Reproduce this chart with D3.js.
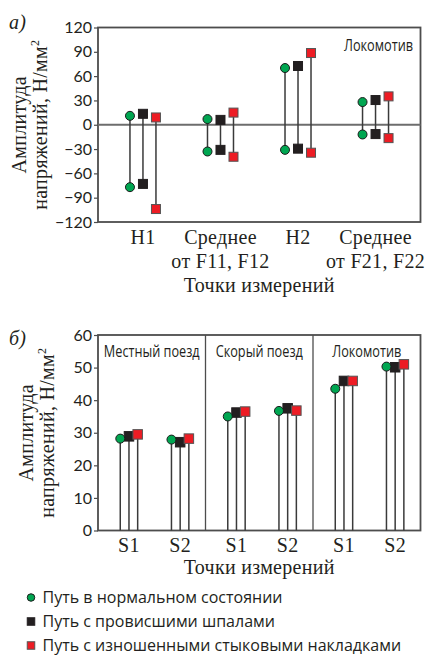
<!DOCTYPE html>
<html><head><meta charset="utf-8">
<script src="https://cdn.jsdelivr.net/npm/d3@7"></script>
<style>
body{margin:0;background:#fff;}
svg{display:block;}
.tick text{font-family:Lato,"Open Sans",sans-serif;font-size:16px;fill:#231f20;}
.serif{font-family:"Liberation Serif","DejaVu Serif",serif;fill:#231f20;letter-spacing:0.3px;}
.cond{font-family:"Open Sans","Noto Sans",sans-serif;fill:#231f20;}
.leg{font-family:"Open Sans","Noto Sans",sans-serif;fill:#231f20;}
</style>
</head><body>
<script>
// ---------- DATA ----------
// Chart a)
const catsA = ["H1", "Среднее|от F11, F12", "H2", "Среднее|от F21, F22"];
const seriesNames = ["Путь в нормальном состоянии", "Путь с провисшими шпалами", "Путь с изношенными стыковыми накладками"];
const maxNormal = [11, 7, 70, 28];
const minNormal = [-77, -33, -31, -12];
const maxSag = [13.5, 6, 72.5, 30.5];
const minSag = [-73, -31, -29.5, -11.5];
const maxWorn = [9, 15, 88.5, 35];
const minWorn = [-104, -39.5, -34.5, -16.5];
const ticksA = [-120, -90, -60, -30, 0, 30, 60, 90, 120];
const labelA = "Локомотив";
// Chart б)
const sectionsB = ["Местный поезд", "Скорый поезд", "Локомотив"];
const pointsB = ["S1", "S2"];
const normalB = [28.2, 27.9, 35.0, 36.7, 43.5, 50.3];
const sagB = [28.9, 27.1, 36.2, 37.5, 45.9, 50.1];
const wornB = [29.5, 28.2, 36.5, 36.8, 45.9, 51.0];
const ticksB = [0, 10, 20, 30, 40, 50, 60];
const xTitle = "Точки измерений";
const yTitle1 = "Амплитуда";
const yTitle2 = "напряжений, Н/мм";

const colors = ["#00a651", "#231f20", "#ed1c24"];
const stemColor = "#3a3a3a";
const axisColor = "#4d4d4d";
const serifSize = 20;

const svg = d3.select("body").append("svg").attr("width", 425).attr("height", 655);

function marker(g, type, x, y, s) {
  if (type === 0) {
    g.append("circle").attr("cx", x).attr("cy", y).attr("r", s / 2)
      .attr("fill", colors[0]).attr("stroke", "#1a1a1a").attr("stroke-width", 1);
  } else {
    g.append("rect").attr("x", x - s / 2).attr("y", y - s / 2).attr("width", s).attr("height", s)
      .attr("fill", colors[type]).attr("stroke", type === 2 ? "#555" : "#231f20").attr("stroke-width", 1);
  }
}

function condText(g, x, y, anchor, txt) {
  g.append("text").attr("class", "cond").attr("font-size", 15.5).attr("text-anchor", anchor)
    .attr("transform", `translate(${x},${y}) scale(0.82,1)`).text(txt);
}

function yTitle(x1, x2, cy) {
  svg.append("text").attr("class", "serif").attr("font-size", serifSize)
    .attr("transform", `translate(${x1},${cy}) rotate(-90)`).attr("text-anchor", "middle").text(yTitle1);
  const t2 = svg.append("text").attr("class", "serif").attr("font-size", serifSize)
    .attr("transform", `translate(${x2},${cy}) rotate(-90)`).attr("text-anchor", "middle");
  t2.append("tspan").text(yTitle2);
  t2.append("tspan").attr("font-size", 12).attr("dy", -8).text("2");
}

// ---------- Chart a ----------
{
  const L = 98, R = 420.5, T = 27.5, B = 222;
  const y = d3.scaleLinear().domain([-120, 120]).range([B, T]);
  const x = d3.scalePoint().domain(catsA).range([L, R]).padding(0.58);
  const off = 13;
  const g = svg.append("g");
  const ax = g.append("g").attr("transform", `translate(${L},0)`)
    .call(d3.axisLeft(y).tickValues(ticksA).tickSize(4).tickPadding(2).tickFormat(d => d < 0 ? "−" + Math.abs(d) : d));
  ax.selectAll("line").attr("stroke", axisColor).attr("stroke-width", 1.2);
  ax.select(".domain").remove();
  g.append("rect").attr("x", L).attr("y", T).attr("width", R - L).attr("height", B - T)
    .attr("fill", "none").attr("stroke", axisColor).attr("stroke-width", 1.8);
  g.append("line").attr("x1", L).attr("x2", R).attr("y1", y(0)).attr("y2", y(0))
    .attr("stroke", "#6d6d6d").attr("stroke-width", 1.8);
  const mx = [maxNormal, maxSag, maxWorn], mn = [minNormal, minSag, minWorn];
  catsA.forEach((c, i) => {
    [0, 1, 2].forEach(s => {
      const cx = x(c) + (s - 1) * off;
      g.append("line").attr("x1", cx).attr("x2", cx).attr("y1", y(mx[s][i])).attr("y2", y(mn[s][i]))
        .attr("stroke", stemColor).attr("stroke-width", 1.5);
    });
  });
  catsA.forEach((c, i) => {
    [0, 1, 2].forEach(s => {
      const cx = x(c) + (s - 1) * off;
      marker(g, s, cx, y(mx[s][i]), 9);
      marker(g, s, cx, y(mn[s][i]), 9);
    });
  });
  catsA.forEach(c => {
    const parts = c.split("|");
    parts.forEach((p, k) => {
      g.append("text").attr("class", "serif").attr("font-size", serifSize).attr("text-anchor", "middle")
        .attr("x", x(c)).attr("y", 243.5 + k * 24).text(p);
    });
  });
  g.append("text").attr("class", "serif").attr("font-size", serifSize).attr("text-anchor", "middle")
    .attr("x", (L + R) / 2).attr("y", 291.5).text(xTitle);
  condText(g, 413, 51, "end", labelA);
  svg.append("text").attr("class", "serif").attr("font-size", 20).attr("font-style", "italic")
    .attr("x", 9).attr("y", 29).text("а)");
  yTitle(26, 47, (T + B) / 2);
}

// ---------- Chart б ----------
{
  const L = 98, R = 420.5, T = 335, B = 530.5;
  const y = d3.scaleLinear().domain([0, 60]).range([B, T]);
  const xs = d3.scaleBand().domain(sectionsB).range([L, R]).padding(0);
  const xp = d3.scalePoint().domain(pointsB).range([0, xs.bandwidth()]).padding(0.55).align(0.55);
  const off = 8.7;
  const g = svg.append("g");
  const ax = g.append("g").attr("transform", `translate(${L},0)`)
    .call(d3.axisLeft(y).tickValues(ticksB).tickSize(4).tickPadding(2));
  ax.selectAll("line").attr("stroke", axisColor).attr("stroke-width", 1.2);
  ax.select(".domain").remove();
  g.append("rect").attr("x", L).attr("y", T).attr("width", R - L).attr("height", B - T)
    .attr("fill", "none").attr("stroke", axisColor).attr("stroke-width", 1.8);
  sectionsB.slice(1).forEach(s => {
    g.append("line").attr("x1", xs(s)).attr("x2", xs(s)).attr("y1", T).attr("y2", B)
      .attr("stroke", axisColor).attr("stroke-width", 1.3);
  });
  const vals = [normalB, sagB, wornB];
  const items = [];
  sectionsB.forEach((sec, si) => pointsB.forEach((p, pi) => items.push({ sec, p, i: si * 2 + pi })));
  items.forEach(d => {
    [0, 1, 2].forEach(s => {
      const cx = xs(d.sec) + xp(d.p) + (s - 1) * off;
      g.append("line").attr("x1", cx).attr("x2", cx).attr("y1", y(0)).attr("y2", y(vals[s][d.i]))
        .attr("stroke", stemColor).attr("stroke-width", 1.5);
    });
  });
  items.forEach(d => {
    [1, 2, 0].forEach(s => {
      const cx = xs(d.sec) + xp(d.p) + (s - 1) * off;
      marker(g, s, cx, y(vals[s][d.i]), s === 0 ? 9 : 9.5);
    });
  });
  items.forEach(d => {
    g.append("text").attr("class", "serif").attr("font-size", serifSize).attr("text-anchor", "middle")
      .attr("x", xs(d.sec) + xp(d.p)).attr("y", 551.5).text(d.p);
  });
  sectionsB.forEach(s => condText(g, xs(s) + xs.bandwidth() / 2, 357, "middle", s));
  g.append("text").attr("class", "serif").attr("font-size", serifSize).attr("text-anchor", "middle")
    .attr("x", (L + R) / 2).attr("y", 574).text(xTitle);
  svg.append("text").attr("class", "serif").attr("font-size", 20).attr("font-style", "italic")
    .attr("x", 9).attr("y", 345).text("б)");
  yTitle(33, 54, (T + B) / 2);
}

// ---------- Legend ----------
{
  const g = svg.append("g");
  seriesNames.forEach((n, i) => {
    const cy = 597.5 + i * 24;
    marker(g, i, 31, cy, 7.5);
    g.append("text").attr("class", "leg").attr("font-size", 16).attr("x", 42.5).attr("y", cy + 5.5).text(n);
  });
}
</script>
</body></html>
